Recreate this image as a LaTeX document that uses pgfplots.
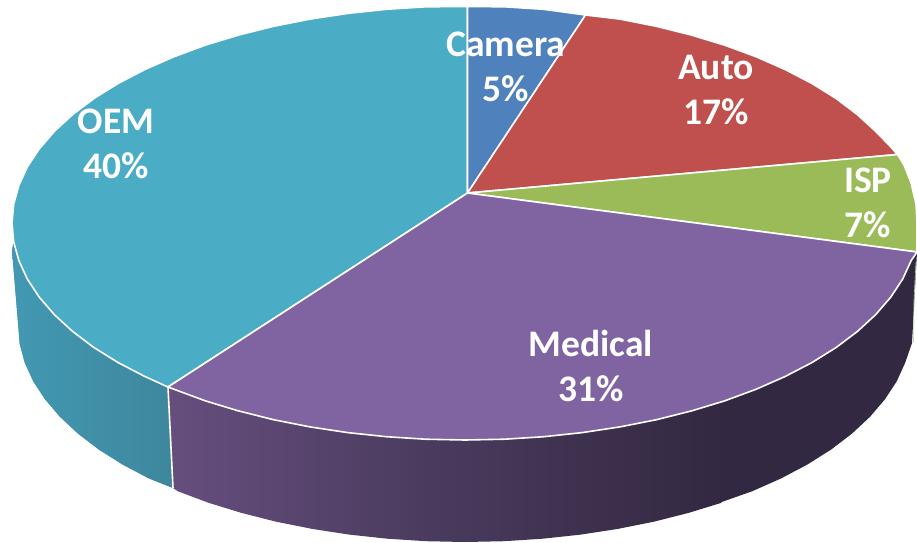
\documentclass[border=0pt]{standalone}
\usepackage{fontspec}
\setmainfont{Carlito}
\usepackage{pgfplots}
\pgfplotsset{compat=1.18}
\definecolor{camera}{HTML}{4F81BD}
\definecolor{auto}{HTML}{C0504D}
\definecolor{isp}{HTML}{9BBB59}
\definecolor{medical}{HTML}{8064A2}
\definecolor{oem}{HTML}{4BACC6}
\definecolor{medL}{HTML}{664E7E}
\definecolor{medM}{HTML}{483A5C}
\definecolor{medR}{HTML}{332841}
\definecolor{oemL}{HTML}{4298B2}
\definecolor{oemR}{HTML}{3E879D}
\begin{document}
\begin{tikzpicture}
\begin{axis}[scale only axis,width=917pt,height=542pt,
  xmin=0,xmax=917,ymin=0,ymax=542,y dir=reverse,hide axis,
  slice/.style={draw=white,line width=1.6pt,line join=round}]
% keep the whole frame in the page
\path (axis cs:0,0) rectangle (axis cs:917,542);
% walls, pixel coordinates of the picture
\addplot[fill=oemL,draw=none,left color=oemL,right color=oemR] coordinates {
(12,250) (13.7,241.9) (18.9,260.7) (27.4,279.2) (39.3,297.2) (54.4,314.7) (72.7,331.5)
(93.9,347.5) (118,362.5) (144.7,376.4) (168,387) (173,488) (148.9,478.4) (122.6,464.5)
(98.8,449.5) (77.9,433.5) (59.9,416.7) (45,399.2) (33.2,381.2) (24.8,362.7) (19.7,343.9)
(19,335) (12,250)};
\addplot[fill=medR,draw=none] coordinates {
(917,252) (911.1,260.7) (902.6,279.2) (890.7,297.2) (875.6,314.7) (857.3,331.5)
(836.1,347.5) (812,362.5) (785.3,376.4) (756.2,389.2) (720,402) (716,504)
(752.3,491.2) (781.1,478.4) (807.4,464.5) (831.2,449.5) (852.1,433.5) (870.1,416.7)
(885,399.2) (896.8,381.2) (905.2,362.7) (912,343) (917,252)};
\addplot[draw=none,left color=medL,right color=medR,middle color=medM] coordinates {
(724.8,400.8) (691.5,410.9) (656.4,419.7) (619.9,426.9) (582.2,432.6) (543.7,436.7)
(504.5,439.2) (465,440) (425.5,439.2) (386.3,436.7) (347.8,432.6) (310.1,426.9)
(273.6,419.7) (238.5,410.9) (205.2,400.8) (168,387) (173,488) (177.7,491.2) (208.6,502.8)
(241.5,512.9) (276.1,521.7) (312.1,528.9) (349.3,534.6) (387.4,538.7) (426,541.2) (465,542)
(504,541.2) (542.6,538.7) (580.7,534.6) (617.9,528.9) (653.9,521.7) (688.5,512.9)
(721.4,502.8) (724.8,400.8)};
\addplot[white,line width=1.6pt] coordinates {(168,387) (173,488)};
\addplot[isp!60!white,line width=.6pt] coordinates {(916,262) (914,300) (913.5,342)};
% top slices
\addplot[slice,fill=oem] coordinates {
(467.5,193) (467.5,6.5) (425.5,6.8) (386.3,9.3) (347.8,13.4) (310.1,19.1) (273.6,26.3)
(238.5,35.1) (205.2,45.2) (173.8,56.8) (144.7,69.6) (118,83.5) (93.9,98.5) (72.7,114.5)
(54.4,131.3) (39.3,148.8) (27.4,166.8) (18.9,185.3) (13.7,204.1) (12,223) (13.7,241.9)
(18.9,260.7) (27.4,279.2) (39.3,297.2) (54.4,314.7) (72.7,331.5) (93.9,347.5) (118,362.5)
(144.7,376.4) (168,387) (467.5,193)};
\addplot[slice,fill=camera] coordinates {
(467.5,193) (467.5,6.5) (504.5,6.8) (543.7,9.3) (585.5,15) (467.5,193)};
\addplot[slice,fill=auto] coordinates {
(467.5,193) (585.5,15) (619.9,19.1) (656.4,26.3) (691.5,35.1) (724.8,45.2) (756.2,56.8)
(785.3,69.6) (812,83.5) (836.1,98.5) (857.3,114.5) (875.6,131.3) (889,145) (897.5,154.5)
(467.5,193)};
\addplot[slice,fill=isp] coordinates {
(467.5,193) (897.5,154.5) (904,165) (911.1,183) (916,204.1) (917,223) (917,252)
(467.5,193)};
\addplot[slice,fill=medical] coordinates {
(467.5,193) (917,252) (911.1,260.7) (902.6,279.2) (890.7,297.2) (875.6,314.7) (857.3,331.5)
(836.1,347.5) (812,362.5) (785.3,376.4) (756.2,389.2) (724.8,400.8) (691.5,410.9)
(656.4,419.7) (619.9,426.9) (582.2,432.6) (543.7,436.7) (504.5,439.2) (465,440)
(425.5,439.2) (386.3,436.7) (347.8,432.6) (310.1,426.9) (273.6,419.7) (238.5,410.9)
(205.2,400.8) (168,387) (467.5,193)};
% labels
\tikzset{lab/.style={text=white,align=center,inner sep=0pt,
  font=\fontsize{37.5}{45}\selectfont\bfseries}}
\node[lab] at (axis cs:506,67) {Camera\\5\%};
\node[lab] at (axis cs:716,90) {Auto\\17\%};
\node[lab] at (axis cs:868,203) {ISP\\7\%};
\node[lab] at (axis cs:591,366) {Medical\\31\%};
\node[lab] at (axis cs:116,144) {OEM\\40\%};
\end{axis}
\end{tikzpicture}
\end{document}
